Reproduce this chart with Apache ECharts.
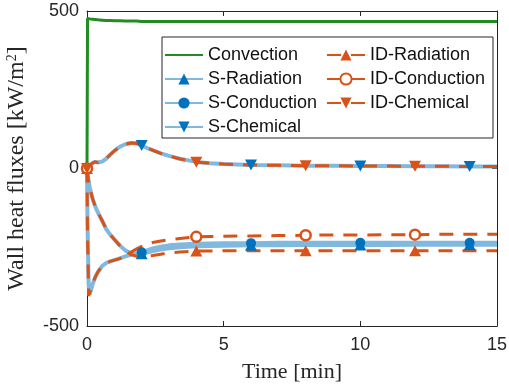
<!DOCTYPE html>
<html><head><meta charset="utf-8">
<script src="https://cdn.jsdelivr.net/npm/echarts@6/dist/echarts.min.js"></script>
<style>html,body{margin:0;padding:0;background:#fff}#c{width:509px;height:388px}</style>
</head><body><div id="c"></div>
<script>
// time [min]
const T = [0, 0.02, 0.06, 0.1, 0.2, 0.3, 0.4, 0.55, 0.7, 0.85, 1.0, 1.2, 1.4, 1.6, 1.8, 2.0, 2.2, 2.4, 2.7, 3.0, 3.4, 4.0, 4.5, 5.0, 6.0, 7.0, 8.0, 9.0, 10.0, 11.0, 12.0, 13.0, 14.0, 15.0];
const convection = [0, 476, 475, 475, 474, 473, 472, 471, 470, 470, 469, 469, 468, 468, 468, 467, 467, 467, 467, 467, 467, 467, 467, 467, 467, 467, 467, 467, 467, 467, 467, 467, 467, 467];
const sRadiation = [0, -15, -40, -60, -95, -120, -140, -165, -192, -210, -225, -244, -260, -269, -272, -271, -267, -262, -257, -253, -250, -247, -246, -245, -244, -244, -243, -243, -243, -243, -242, -242, -242, -242];
const sConduction = [0, -180, -370, -400, -368, -346, -328, -310, -300, -295, -291, -285, -279, -274, -270, -266, -260, -254, -248, -244, -241, -239, -238, -237, -237, -236, -236, -236, -236, -236, -236, -236, -236, -236];
const sChemical = [0, 2, 6, 10, 17, 21, 19, 22, 31, 44, 56, 69, 77, 81, 80, 73, 65, 58, 48, 40, 31, 21, 17, 14, 11, 10, 9, 9, 8, 8, 7, 7, 6, 6];
const idRadiation = [0, -15, -40, -60, -95, -120, -140, -165, -192, -210, -225, -245, -262, -273, -278, -279, -278, -276, -272, -268, -265, -262, -262, -261, -261, -261, -261, -261, -261, -261, -261, -261, -261, -261];
const idConduction = [0, -220, -405, -400, -365, -345, -328, -310, -300, -295, -291, -286, -276, -266, -256, -247, -240, -235, -230, -226, -222, -217, -216, -215, -214, -213, -212, -211, -211, -210, -210, -209, -209, -209];
const idChemical = [0, 2, 6, 10, 17, 21, 19, 22, 31, 44, 56, 69, 77, 81, 80, 74, 66, 58, 48, 40, 30, 20, 17, 14, 11, 10, 9, 9, 8, 8, 7, 7, 6, 6];
const markTimesS = [2, 6, 10, 14];
const markTimesID = [0, 4, 8, 12];
const xTicks = [0, 5, 10, 15];
const yTicks = [-500, 0, 500];

const UP = 'path://M5,0L10,9L0,9Z';
const DOWN = 'path://M0,0L10,0L5,9Z';
const BLUE = '#0072BD', LBLUE = '#80B8DE', ORANGE = '#D95319', GREEN = '#218C21', AX = '#262626';

function mk(vals, marks) {
  return T.map((t, i) => marks.includes(t) ? { value: [t, vals[i]] } : { value: [t, vals[i]], symbol: 'none' });
}
function sSeries(name, vals, sym, size) {
  return { name, type: 'line', data: mk(vals, markTimesS), symbol: sym, symbolSize: size, showAllSymbol: true,
    clip: false, lineStyle: { color: LBLUE, width: 4 }, itemStyle: { color: BLUE } };
}
function idSeries(name, vals, sym, size, hollow) {
  return { name, type: 'line', data: mk(vals, markTimesID), symbol: sym, symbolSize: size, showAllSymbol: true,
    clip: false, lineStyle: { color: ORANGE, width: 3, type: [14, 10] },
    itemStyle: hollow ? { color: '#fff', borderColor: ORANGE, borderWidth: 2.5 } : { color: ORANGE } };
}

const chart = echarts.init(document.getElementById('c'), null, { renderer: 'canvas' });
const axisCommon = { axisLine: { show: true, onZero: false, lineStyle: { color: AX, width: 1 } },
  axisTick: { show: true, inside: true, length: 5, lineStyle: { color: AX } }, splitLine: { show: false } };
chart.setOption({
  animation: false,
  backgroundColor: '#fff',
  grid: { left: 87, right: 12, top: 11, bottom: 62, outerBoundsMode: 'none', containLabel: false },
  xAxis: [
    Object.assign({ type: 'value', min: xTicks[0], max: xTicks[xTicks.length - 1], interval: 5, position: 'bottom',
      axisLabel: { fontSize: 18, color: AX, fontFamily: 'Liberation Sans', margin: 10 },
      name: 'Time [min]', nameLocation: 'middle', nameGap: 35,
      nameTextStyle: { fontFamily: 'Liberation Serif', fontSize: 22, color: AX } }, axisCommon),
    Object.assign({ type: 'value', min: xTicks[0], max: xTicks[xTicks.length - 1], interval: 5, position: 'top',
      axisLabel: { show: false } }, axisCommon)
  ],
  yAxis: [
    Object.assign({ type: 'value', min: yTicks[0], max: yTicks[yTicks.length - 1], interval: 500, position: 'left',
      axisLabel: { fontSize: 18, color: AX, fontFamily: 'Liberation Sans', margin: 8 },
      name: 'Wall heat fluxes [kW/m{sup|2}]', nameLocation: 'middle', nameGap: 58, nameRotate: 90,
      nameTextStyle: { fontFamily: 'Liberation Serif', fontSize: 24, color: AX,
        rich: { sup: { fontFamily: 'Liberation Serif', fontSize: 14, color: AX, padding: [0, 0, 10, 0] } } } }, axisCommon),
    Object.assign({ type: 'value', min: yTicks[0], max: yTicks[yTicks.length - 1], interval: 500, position: 'right',
      axisLabel: { show: false } }, axisCommon)
  ],
  graphic: [{ type: 'rect', z: 3, shape: { x: 162, y: 37, width: 331, height: 101 },
    style: { fill: '#fff', stroke: AX, lineWidth: 1 } }],
  legend: [
    { data: [{ name: 'Convection', itemStyle: { opacity: 0 } }, 'S-Radiation', 'S-Conduction', 'S-Chemical'],
      orient: 'vertical', left: 159, top: 41,
      itemWidth: 38, itemHeight: 14, itemGap: 6, z: 4,
      textStyle: { fontSize: 18, fontFamily: 'Liberation Sans', color: '#111' } },
    { data: ['ID-Radiation', 'ID-Conduction', 'ID-Chemical'], orient: 'vertical', left: 321, top: 41,
      itemWidth: 38, itemHeight: 14, itemGap: 6, z: 4,
      textStyle: { fontSize: 18, fontFamily: 'Liberation Sans', color: '#111' } }
  ],
  series: [
    { name: 'Convection', type: 'line', data: T.map((t, i) => [t, convection[i]]), symbol: 'none', clip: false,
      lineStyle: { color: GREEN, width: 3 }, itemStyle: { color: GREEN } },
    sSeries('S-Radiation', sRadiation, UP, [12, 11]),
    sSeries('S-Conduction', sConduction, 'circle', 10),
    sSeries('S-Chemical', sChemical, DOWN, [12, 11]),
    idSeries('ID-Radiation', idRadiation, UP, [12, 11], false),
    idSeries('ID-Conduction', idConduction, 'circle', 10, true),
    idSeries('ID-Chemical', idChemical, DOWN, [12, 11], false)
  ]
});
</script></body></html>
